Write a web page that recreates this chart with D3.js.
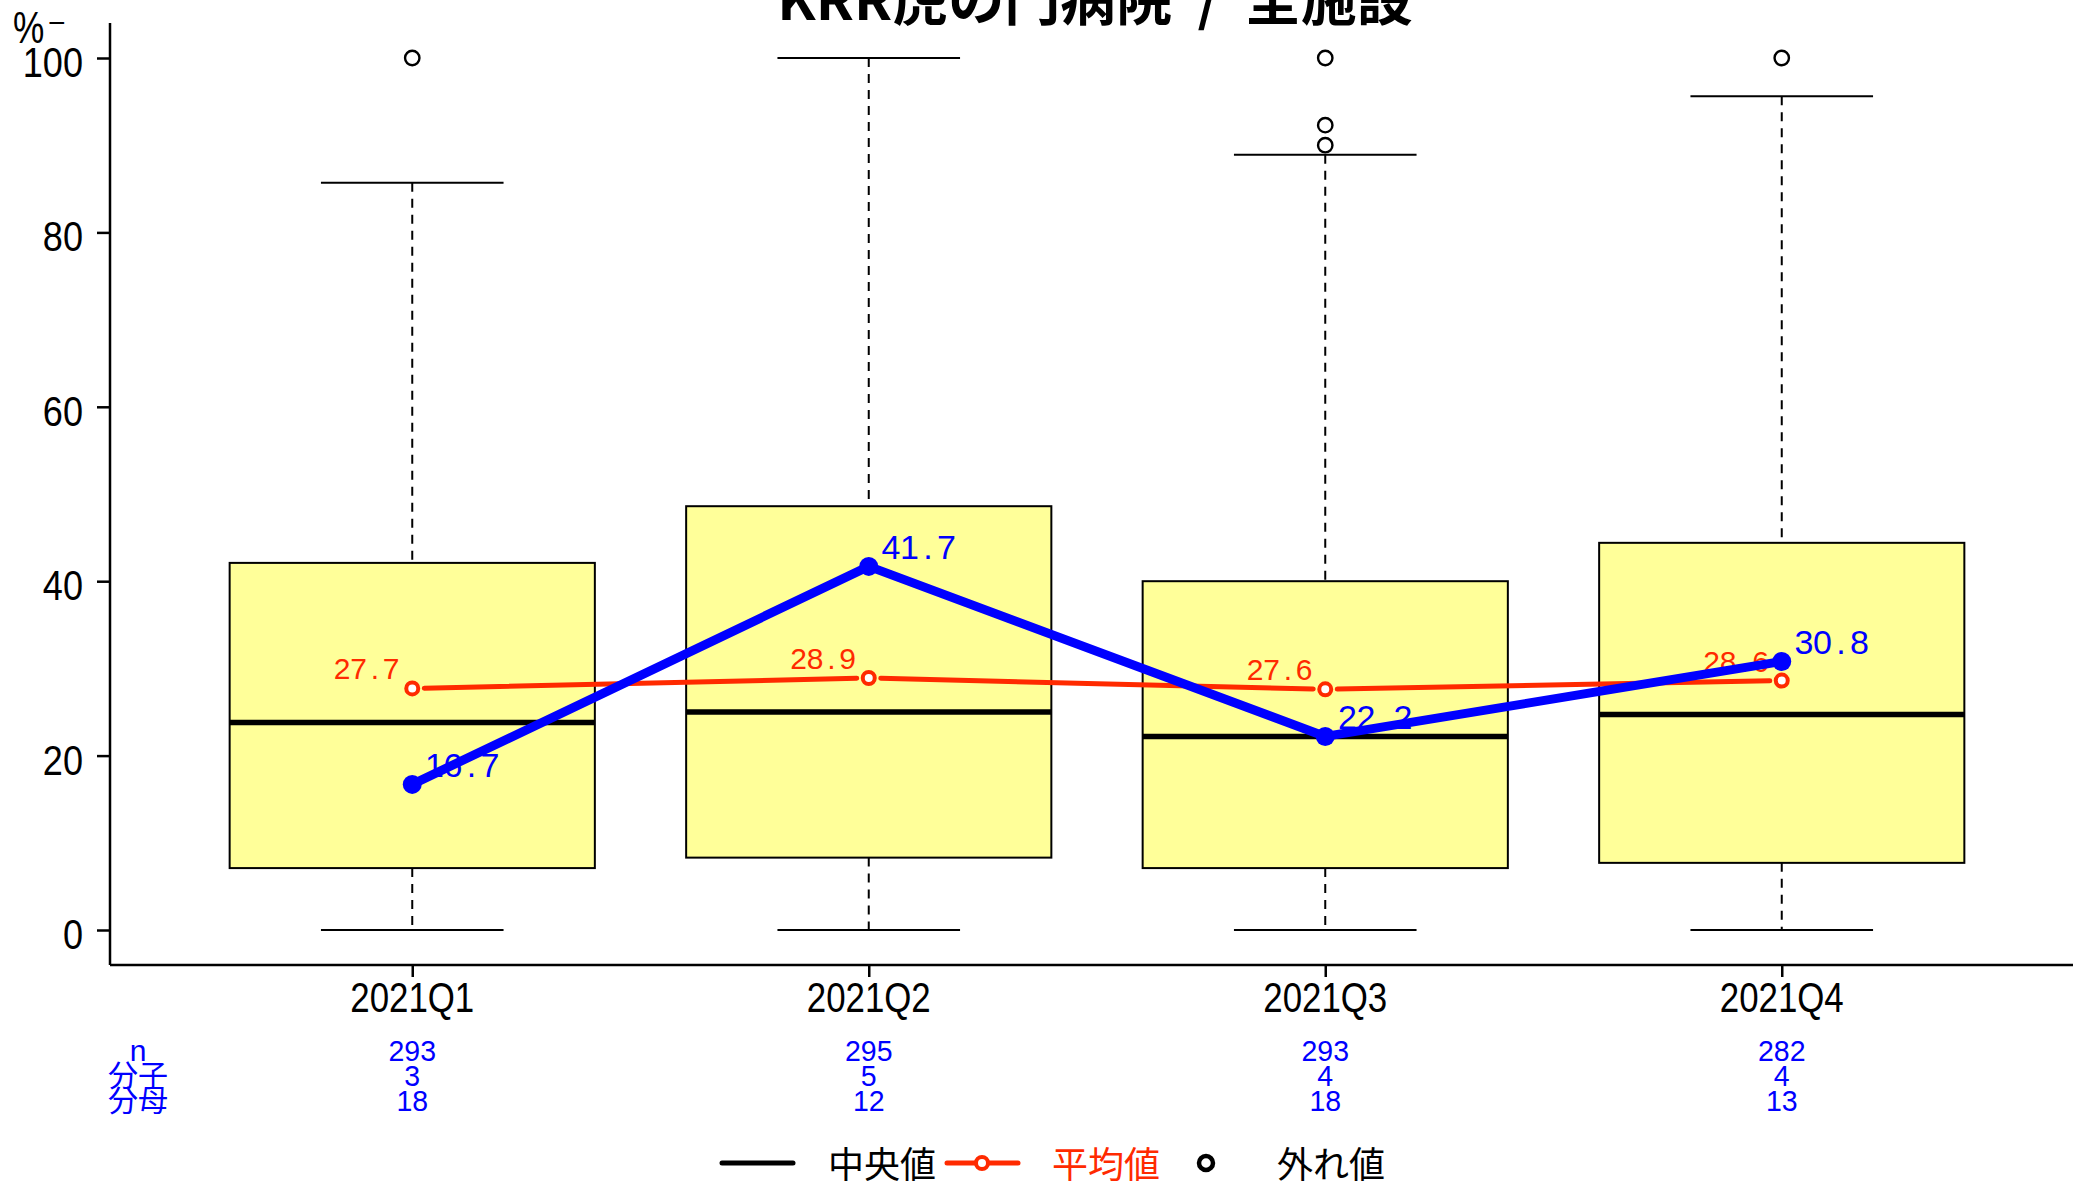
<!DOCTYPE html>
<html>
<head>
<meta charset="utf-8">
<script src="https://cdn.jsdelivr.net/npm/d3@7"></script>
<style>
  html, body { margin: 0; padding: 0; background: #ffffff; }
  svg { display: block; }
</style>
</head>
<body>
<script>
// Quarterly distribution across all facilities, with the facility's own rate overlaid
const categories   = ["2021Q1", "2021Q2", "2021Q3", "2021Q4"];
const lowerWhisker = [0, 0, 0, 0];
const lowerHinge   = [7.1, 8.3, 7.1, 7.7];
const medians      = [23.8, 25.0, 22.2, 24.7];
const upperHinge   = [42.1, 48.6, 40.0, 44.4];
const upperWhisker = [85.7, 100, 88.9, 95.6];
const outliers     = [[100], [], [100, 92.3, 90.0], [100]];
const means        = [27.7, 28.9, 27.6, 28.6];
const hospital     = [16.7, 41.7, 22.2, 30.8];
const nValues      = [293, 295, 293, 282];
const numerators   = [3, 5, 4, 4];
const denominators = [18, 12, 18, 13];
const yTicks       = [0, 20, 40, 60, 80, 100];
const titleText    = "KRR虎の門病院  /  全施設";
const tableLabels  = ["n", "分子", "分母"];
const legendLabels = ["中央値", "平均値", "外れ値"];

const W = 2073, H = 1184;
const RED = "#ff2a00", BLUE = "#0000ff", BOX_FILL = "#ffff99";
const SANS = "'Liberation Sans', Arial, sans-serif";
const CJK = "'Noto Sans CJK JP', 'Noto Sans', sans-serif";

const svg = d3.select("body").append("svg").attr("width", W).attr("height", H);

const x = d3.scalePoint().domain(categories).range([184, 2010]).padding(0.5);
const step = x.step();
const y = d3.scaleLinear().domain([0, 100]).range([930, 58]);

// Narrow sans text helper (condensed horizontally)
function narrowText(g, tx, ty, str, size, anchor, fill, sx) {
  return g.append("g").attr("transform", `translate(${tx},${ty}) scale(${sx},1)`)
    .append("text").attr("x", 0).attr("y", 0)
    .attr("font-family", SANS).attr("font-size", size)
    .attr("text-anchor", anchor).attr("fill", fill).text(str);
}

// Fixed-pitch value label: each character centred in its own cell
function cellText(g, tx, ty, str, size, cell, anchor, fill) {
  const chars = Array.from(str);
  const total = chars.length * cell;
  const start = anchor === "end" ? tx - total : tx;
  const t = g.append("text").attr("y", ty).attr("font-family", SANS)
    .attr("font-size", size).attr("fill", fill).attr("text-anchor", "middle");
  chars.forEach((ch, k) => {
    t.append("tspan").attr("x", start + cell * (k + 0.5)).text(ch);
  });
  return t;
}

// Title (top partially outside the canvas)
svg.append("text").attr("x", 1095).attr("y", 20)
  .attr("text-anchor", "middle").attr("font-family", CJK)
  .attr("font-weight", "bold").attr("font-size", 56).attr("fill", "#000")
  .style("white-space", "pre")
  .text(titleText);

// Axes
const yAxisX = 110, xAxisY = 965;
const yAxis = d3.axisLeft(y).tickValues(yTicks).tickSize(13).tickFormat("");
const gy = svg.append("g").attr("transform", `translate(${yAxisX},0)`).call(yAxis);
gy.select(".domain").remove();
gy.selectAll(".tick line").attr("stroke", "#000").attr("stroke-width", 2.5);
svg.append("line").attr("x1", yAxisX).attr("x2", yAxisX).attr("y1", 23).attr("y2", xAxisY)
  .attr("stroke", "#000").attr("stroke-width", 2.5);
yTicks.forEach(t => narrowText(svg, 83, y(t) + 19, String(t), 43, "end", "#000", 0.84));

const xAxis = d3.axisBottom(x).tickSize(12).tickFormat("");
const gx = svg.append("g").attr("transform", `translate(0,${xAxisY})`).call(xAxis);
gx.select(".domain").remove();
gx.selectAll(".tick line").attr("stroke", "#000").attr("stroke-width", 2.5);
svg.append("line").attr("x1", yAxisX).attr("x2", W).attr("y1", xAxisY).attr("y2", xAxisY)
  .attr("stroke", "#000").attr("stroke-width", 2.5);
categories.forEach(c => narrowText(svg, x(c), 1012, c, 42, "middle", "#000", 0.83));

// Unit label
narrowText(svg, 13, 43, "%", 44, "start", "#000", 0.8);
svg.append("text").attr("x", 48).attr("y", 33).attr("font-family", SANS)
  .attr("font-size", 30).attr("fill", "#000").text("−");

// Boxplots
const boxW = step * 0.8, capW = step * 0.4;
const boxes = svg.append("g");
categories.forEach((c, i) => {
  const cx = x(c);
  // whiskers
  boxes.append("line").attr("x1", cx).attr("x2", cx)
    .attr("y1", y(upperWhisker[i])).attr("y2", y(upperHinge[i]))
    .attr("stroke", "#000").attr("stroke-width", 2).attr("stroke-dasharray", "9,7");
  boxes.append("line").attr("x1", cx).attr("x2", cx)
    .attr("y1", y(lowerHinge[i])).attr("y2", y(lowerWhisker[i]))
    .attr("stroke", "#000").attr("stroke-width", 2).attr("stroke-dasharray", "9,7");
  // caps
  [upperWhisker[i], lowerWhisker[i]].forEach(v => {
    boxes.append("line").attr("x1", cx - capW / 2).attr("x2", cx + capW / 2)
      .attr("y1", y(v)).attr("y2", y(v)).attr("stroke", "#000").attr("stroke-width", 2);
  });
  // box
  boxes.append("rect").attr("x", cx - boxW / 2).attr("width", boxW)
    .attr("y", y(upperHinge[i])).attr("height", y(lowerHinge[i]) - y(upperHinge[i]))
    .attr("fill", BOX_FILL).attr("stroke", "#000").attr("stroke-width", 2);
  // median
  boxes.append("line").attr("x1", cx - boxW / 2).attr("x2", cx + boxW / 2)
    .attr("y1", y(medians[i])).attr("y2", y(medians[i]))
    .attr("stroke", "#000").attr("stroke-width", 5.5);
  // outliers
  outliers[i].forEach(v => {
    boxes.append("circle").attr("cx", cx).attr("cy", y(v)).attr("r", 7.2)
      .attr("fill", "#fff").attr("stroke", "#000").attr("stroke-width", 2.4);
  });
});

// Mean line (segments leave a gap around each point)
const meanPts = categories.map((c, i) => [x(c), y(means[i])]);
const gap = 12;
const meanG = svg.append("g");
for (let i = 0; i < meanPts.length - 1; i++) {
  const [x0, y0] = meanPts[i], [x1, y1] = meanPts[i + 1];
  const len = Math.hypot(x1 - x0, y1 - y0);
  const ux = (x1 - x0) / len, uy = (y1 - y0) / len;
  meanG.append("line")
    .attr("x1", x0 + ux * gap).attr("y1", y0 + uy * gap)
    .attr("x2", x1 - ux * gap).attr("y2", y1 - uy * gap)
    .attr("stroke", RED).attr("stroke-width", 5).attr("stroke-linecap", "round");
}
meanPts.forEach(([px, py], i) => {
  meanG.append("circle").attr("cx", px).attr("cy", py).attr("r", 6)
    .attr("fill", "#fff").attr("stroke", RED).attr("stroke-width", 4);
  cellText(meanG, px - 13, py - 9, means[i].toFixed(1), 30, 16.3, "end", RED);
});

// Facility rate line
const hospPts = categories.map((c, i) => [x(c), y(hospital[i])]);
const hospG = svg.append("g");
hospPts.forEach(([px, py], i) => {
  cellText(hospG, px + 13, py - 7, hospital[i].toFixed(1), 34, 18.5, "start", BLUE);
});
hospG.append("path").datum(hospPts)
  .attr("d", d3.line())
  .attr("fill", "none").attr("stroke", BLUE).attr("stroke-width", 9)
  .attr("stroke-linejoin", "round");
hospPts.forEach(([px, py]) => {
  hospG.append("circle").attr("cx", px).attr("cy", py).attr("r", 9.5).attr("fill", BLUE);
});

// Count table under the axis
const rowY = [1061, 1086, 1111];
tableLabels.forEach((t, r) => {
  svg.append("text").attr("x", 138).attr("y", rowY[r]).attr("text-anchor", "middle")
    .attr("font-family", r === 0 ? SANS : CJK).attr("font-size", 30)
    .attr("fill", BLUE).text(t);
});
[nValues, numerators, denominators].forEach((arr, r) => {
  categories.forEach((c, i) => narrowText(svg, x(c), rowY[r], String(arr[i]), 30, "middle", BLUE, 0.95));
});

// Legend
const ly = 1163, lb = 1178;
const leg = svg.append("g");
leg.append("line").attr("x1", 722).attr("x2", 793).attr("y1", ly).attr("y2", ly)
  .attr("stroke", "#000").attr("stroke-width", 5).attr("stroke-linecap", "round");
leg.append("text").attr("x", 828).attr("y", lb).attr("font-family", CJK)
  .attr("font-size", 36).attr("fill", "#000").text(legendLabels[0]);
leg.append("line").attr("x1", 947).attr("x2", 1018).attr("y1", ly).attr("y2", ly)
  .attr("stroke", RED).attr("stroke-width", 5).attr("stroke-linecap", "round");
leg.append("circle").attr("cx", 982).attr("cy", ly).attr("r", 6)
  .attr("fill", "#fff").attr("stroke", RED).attr("stroke-width", 4);
leg.append("text").attr("x", 1052).attr("y", lb).attr("font-family", CJK)
  .attr("font-size", 36).attr("fill", RED).text(legendLabels[1]);
leg.append("circle").attr("cx", 1206).attr("cy", ly).attr("r", 7)
  .attr("fill", "#fff").attr("stroke", "#000").attr("stroke-width", 4.5);
leg.append("text").attr("x", 1277).attr("y", lb).attr("font-family", CJK)
  .attr("font-size", 36).attr("fill", "#000").text(legendLabels[2]);
</script>
</body>
</html>
